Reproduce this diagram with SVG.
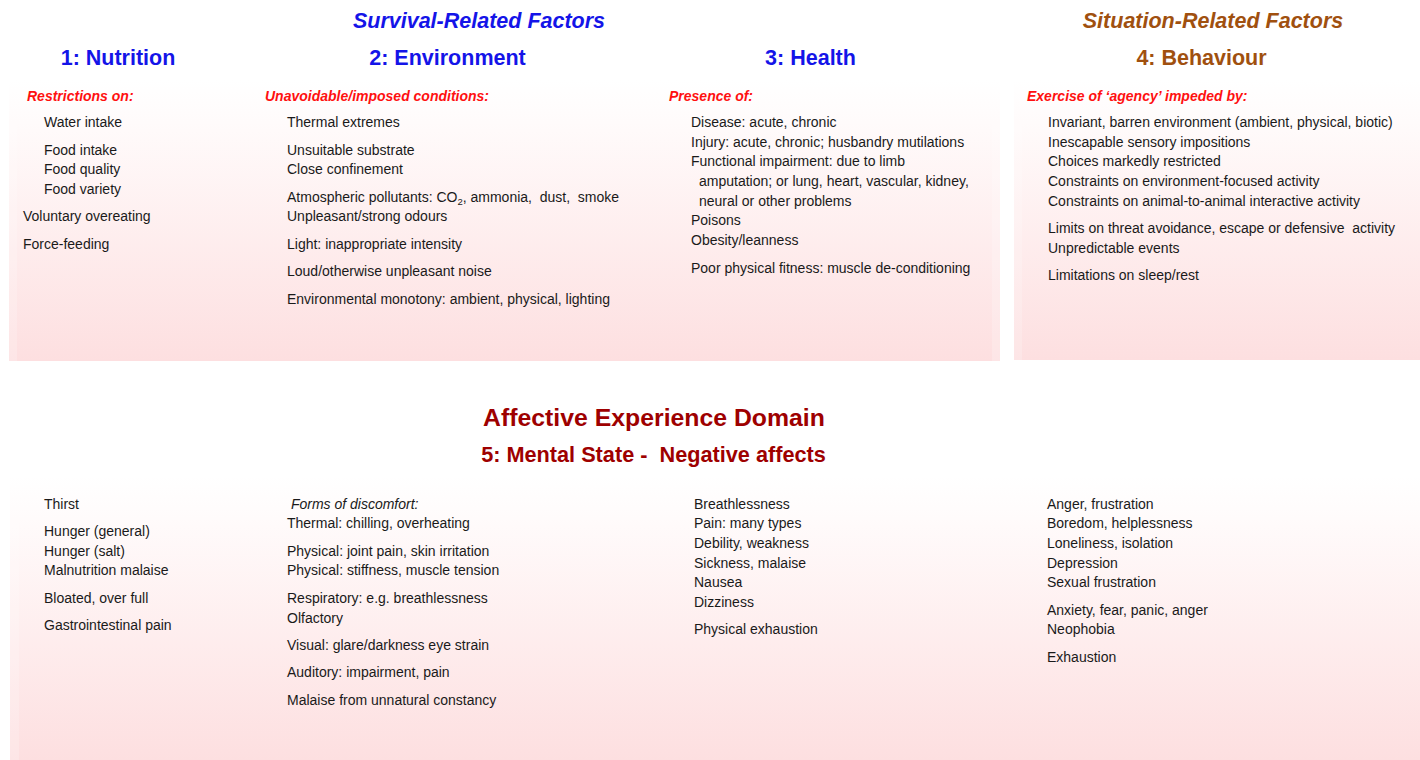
<svg xmlns="http://www.w3.org/2000/svg" width="1420" height="760" viewBox="0 0 1420 760">
  <defs>
    <linearGradient id="panelFill" x1="0" y1="0" x2="0" y2="1">
      <stop offset="0" stop-color="#ffffff"/>
      <stop offset="0.15" stop-color="#fffbfb"/>
      <stop offset="1" stop-color="#fddfe0"/>
    </linearGradient>
    <style>
      text { font-family: "Liberation Sans", Arial, sans-serif; white-space: pre; }
      .group { font-size: 21.5px; font-weight: bold; font-style: italic; text-anchor: middle; }
      .survival { fill: #1414e8; }
      .situation { fill: #a0500f; }
      .domain { font-size: 21.5px; font-weight: bold; text-anchor: middle; }
      .lead { font-size: 14px; font-weight: bold; font-style: italic; fill: #ff1010; }
      .item { font-size: 14px; fill: #1a1a1a; }
      .note { font-size: 14px; font-style: italic; fill: #1a1a1a; }
      .affect { font-weight: bold; fill: #9e0000; text-anchor: middle; }
      .edge { fill: #ffffff; opacity: 0.2; }
    </style>
  </defs>

  <rect width="1420" height="760" fill="#ffffff"/>

  <!-- shaded panels -->
  <g id="panels">
    <rect x="9" y="80" width="991" height="281" fill="url(#panelFill)"/>
    <rect x="9" y="80" width="8" height="281" class="edge"/>
    <rect x="992" y="80" width="8" height="281" class="edge"/>
    <rect x="1014" y="80" width="406" height="280" fill="url(#panelFill)"/>
    <rect x="1014" y="80" width="8" height="280" class="edge"/>
    <rect x="10" y="476" width="1410" height="284" fill="url(#panelFill)"/>
    <rect x="10" y="476" width="9" height="284" class="edge"/>
  </g>

  <!-- group headings -->
  <g id="headings">
    <text x="479" y="28" class="group survival">Survival-Related Factors</text>
    <text x="1213" y="28" class="group situation">Situation-Related Factors</text>
  </g>

  <!-- domain 1 -->
  <g id="nutrition">
    <text x="118" y="65" class="domain survival">1: Nutrition</text>
    <text x="27" y="101" class="lead">Restrictions on:</text>
    <text x="44" y="127" class="item">Water intake</text>
    <text x="44" y="155" class="item">Food intake</text>
    <text x="44" y="174" class="item">Food quality</text>
    <text x="44" y="194" class="item">Food variety</text>
    <text x="23" y="221" class="item">Voluntary overeating</text>
    <text x="23" y="249" class="item">Force-feeding</text>
  </g>

  <!-- domain 2 -->
  <g id="environment">
    <text x="447.5" y="65" class="domain survival">2: Environment</text>
    <text x="265" y="101" class="lead">Unavoidable/imposed conditions:</text>
    <text x="287" y="127" class="item">Thermal extremes</text>
    <text x="287" y="155" class="item">Unsuitable substrate</text>
    <text x="287" y="174" class="item">Close confinement</text>
    <text x="287" y="202" class="item">Atmospheric pollutants: CO<tspan font-size="9.5" dy="3">2</tspan><tspan dy="-3">, ammonia,  dust,  smoke</tspan></text>
    <text x="287" y="221" class="item">Unpleasant/strong odours</text>
    <text x="287" y="249" class="item">Light: inappropriate intensity</text>
    <text x="287" y="276" class="item">Loud/otherwise unpleasant noise</text>
    <text x="287" y="304" class="item">Environmental monotony: ambient, physical, lighting</text>
  </g>

  <!-- domain 3 -->
  <g id="health">
    <text x="810.5" y="65" class="domain survival">3: Health</text>
    <text x="669" y="101" class="lead">Presence of:</text>
    <text x="691" y="127" class="item">Disease: acute, chronic</text>
    <text x="691" y="147" class="item">Injury: acute, chronic; husbandry mutilations</text>
    <text x="691" y="166" class="item">Functional impairment: due to limb</text>
    <text x="699" y="186" class="item">amputation; or lung, heart, vascular, kidney,</text>
    <text x="699" y="206" class="item">neural or other problems</text>
    <text x="691" y="225" class="item">Poisons</text>
    <text x="691" y="245" class="item">Obesity/leanness</text>
    <text x="691" y="273" class="item">Poor physical fitness: muscle de-conditioning</text>
  </g>

  <!-- domain 4 -->
  <g id="behaviour">
    <text x="1201.5" y="65" class="domain situation">4: Behaviour</text>
    <text x="1027" y="101" class="lead">Exercise of ‘agency’ impeded by:</text>
    <text x="1048" y="127" class="item">Invariant, barren environment (ambient, physical, biotic)</text>
    <text x="1048" y="147" class="item">Inescapable sensory impositions</text>
    <text x="1048" y="166" class="item">Choices markedly restricted</text>
    <text x="1048" y="186" class="item">Constraints on environment-focused activity</text>
    <text x="1048" y="206" class="item">Constraints on animal-to-animal interactive activity</text>
    <text x="1048" y="233" class="item">Limits on threat avoidance, escape or defensive  activity</text>
    <text x="1048" y="253" class="item">Unpredictable events</text>
    <text x="1048" y="280" class="item">Limitations on sleep/rest</text>
  </g>

  <!-- domain 5 -->
  <g id="mental-state">
    <text x="654" y="426" class="affect" font-size="24.8">Affective Experience Domain</text>
    <text x="653.5" y="462" class="affect" font-size="21.7">5: Mental State -  Negative affects</text>
  </g>

  <g id="affects-nutrition">
    <text x="44" y="509" class="item">Thirst</text>
    <text x="44" y="536" class="item">Hunger (general)</text>
    <text x="44" y="556" class="item">Hunger (salt)</text>
    <text x="44" y="575" class="item">Malnutrition malaise</text>
    <text x="44" y="603" class="item">Bloated, over full</text>
    <text x="44" y="630" class="item">Gastrointestinal pain</text>
  </g>

  <g id="affects-environment">
    <text x="287" y="509" class="note"> Forms of discomfort:</text>
    <text x="287" y="528" class="item">Thermal: chilling, overheating</text>
    <text x="287" y="556" class="item">Physical: joint pain, skin irritation</text>
    <text x="287" y="575" class="item">Physical: stiffness, muscle tension</text>
    <text x="287" y="603" class="item">Respiratory: e.g. breathlessness</text>
    <text x="287" y="623" class="item">Olfactory</text>
    <text x="287" y="650" class="item">Visual: glare/darkness eye strain</text>
    <text x="287" y="677" class="item">Auditory: impairment, pain</text>
    <text x="287" y="705" class="item">Malaise from unnatural constancy</text>
  </g>

  <g id="affects-health">
    <text x="694" y="509" class="item">Breathlessness</text>
    <text x="694" y="528" class="item">Pain: many types</text>
    <text x="694" y="548" class="item">Debility, weakness</text>
    <text x="694" y="568" class="item">Sickness, malaise</text>
    <text x="694" y="587" class="item">Nausea</text>
    <text x="694" y="607" class="item">Dizziness</text>
    <text x="694" y="634" class="item">Physical exhaustion</text>
  </g>

  <g id="affects-behaviour">
    <text x="1047" y="509" class="item">Anger, frustration</text>
    <text x="1047" y="528" class="item">Boredom, helplessness</text>
    <text x="1047" y="548" class="item">Loneliness, isolation</text>
    <text x="1047" y="568" class="item">Depression</text>
    <text x="1047" y="587" class="item">Sexual frustration</text>
    <text x="1047" y="615" class="item">Anxiety, fear, panic, anger</text>
    <text x="1047" y="634" class="item">Neophobia</text>
    <text x="1047" y="662" class="item">Exhaustion</text>
  </g>
</svg>
